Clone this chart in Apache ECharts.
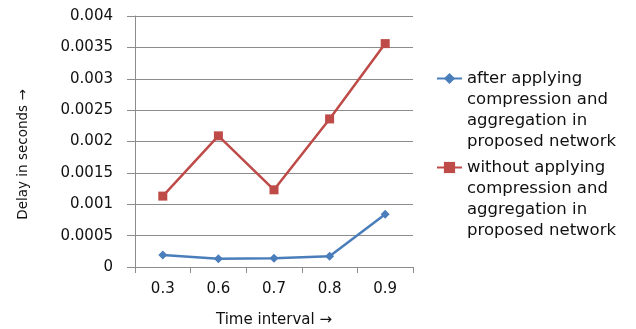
<!DOCTYPE html>
<html>
<head>
<meta charset="utf-8">
<script src="https://cdn.jsdelivr.net/npm/echarts@6/dist/echarts.min.js"></script>
<style>html,body{margin:0;padding:0;background:#fff;}#c{width:636px;height:329px;}</style>
</head>
<body>
<div id="c"></div>
<script>
var categories = ['0.3', '0.6', '0.7', '0.8', '0.9'];
var afterValues = [0.00019, 0.00013, 0.00014, 0.00017, 0.00084];
var withoutValues = [0.00113, 0.00209, 0.00123, 0.00236, 0.00356];
var seriesNames = ['after applying compression and aggregation in proposed network',
                   'without applying compression and aggregation in proposed network'];
var legendLines = {};
legendLines[seriesNames[0]] = 'after applying\ncompression and\naggregation in\nproposed network';
legendLines[seriesNames[1]] = 'without applying\ncompression and\naggregation in\nproposed network';

var font = 'DejaVu Sans';
var chart = echarts.init(document.getElementById('c'), null, {renderer: 'canvas'});
chart.setOption({
  animation: false,
  backgroundColor: '#fff',
  grid: {left: 135, top: 16, right: 223, bottom: 62, containLabel: false, outerBoundsMode: 'none'},
  legend: {
    orient: 'vertical',
    left: 431,
    top: 0,
    itemWidth: 25,
    itemHeight: 14,
    itemGap: -58,
    data: seriesNames,
    formatter: function (n) { return '\n\n\n' + legendLines[n]; },
    textStyle: {fontFamily: font, fontSize: 16.5, color: '#111', lineHeight: 21}
  },
  xAxis: {
    type: 'category',
    data: categories,
    boundaryGap: true,
    name: 'Time interval \u2192',
    nameLocation: 'middle',
    nameGap: 46,
    nameTextStyle: {fontFamily: font, fontSize: 15, color: '#111'},
    axisLine: {lineStyle: {color: '#8c8c8c', width: 1}},
    axisTick: {show: true, alignWithLabel: false, length: 6, lineStyle: {color: '#8c8c8c'}},
    axisLabel: {fontFamily: font, fontSize: 15, color: '#111', margin: 15}
  },
  yAxis: {
    type: 'value',
    min: 0,
    max: 0.004,
    interval: 0.0005,
    name: 'Delay in seconds \u2192',
    nameLocation: 'middle',
    nameGap: 105,
    nameRotate: 90,
    nameTextStyle: {fontFamily: font, fontSize: 13.5, color: '#111', padding: [0, 26, 0, 0]},
    axisLine: {show: true, lineStyle: {color: '#8c8c8c', width: 1}},
    axisTick: {show: true, length: 8, lineStyle: {color: '#8c8c8c'}},
    axisLabel: {fontFamily: font, fontSize: 15, color: '#111', margin: 22,
      formatter: function (v) { return String(+v.toFixed(4)); }},
    splitLine: {show: true, lineStyle: {color: '#8c8c8c', width: 1}}
  },
  series: [
    {
      name: seriesNames[0], type: 'line', data: afterValues,
      symbol: 'diamond', symbolSize: 9,
      lineStyle: {color: '#4a7ebb', width: 2.5},
      itemStyle: {color: '#4a7ebb'}
    },
    {
      name: seriesNames[1], type: 'line', data: withoutValues,
      symbol: 'rect', symbolSize: 9,
      lineStyle: {color: '#be4b48', width: 2.5},
      itemStyle: {color: '#be4b48'}
    }
  ]
});
</script>
</body>
</html>
